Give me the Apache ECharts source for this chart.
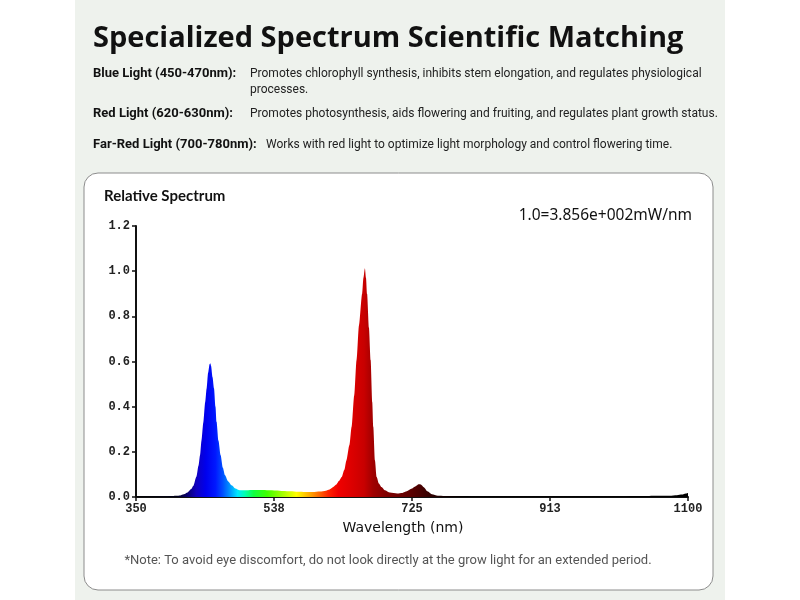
<!DOCTYPE html>
<html>
<head>
<meta charset="utf-8">
<script src="https://cdn.jsdelivr.net/npm/echarts@6/dist/echarts.min.js"></script>
<style>
  html, body { margin: 0; padding: 0; background: #ffffff; }
  #chart { width: 800px; height: 600px; }
</style>
</head>
<body>
<div id="chart"></div>
<script>
// spectrum samples (nm, relative intensity)
const wavelengths = [
  350, 370, 390, 400, 405, 410, 415, 420, 425, 428, 432, 435, 437, 439, 441.5, 444, 446, 448, 450, 451,
  452, 454, 456, 458, 459.5, 462, 465, 468, 471, 475, 480, 485, 491, 500, 510, 520, 530, 540, 550, 560,
  570, 580, 590, 600, 608, 613, 618, 622, 626, 629.5, 633, 636, 640, 643, 646.5, 649.7, 653, 657.3, 659, 661,
  662.5, 664, 666.5, 668.8, 671, 672.4, 674.6, 677, 680, 683.6, 688, 695, 705, 712, 718, 724, 730, 734, 737, 741,
  746, 752, 760, 780, 820, 880, 950, 1000, 1040, 1060, 1075, 1085, 1092, 1097, 1100
]
const intensity = [
  0.003, 0.003, 0.003, 0.004, 0.005, 0.007, 0.012, 0.02, 0.035, 0.05, 0.09, 0.14, 0.185, 0.25, 0.33, 0.42, 0.48, 0.55, 0.588, 0.592,
  0.58, 0.53, 0.48, 0.4, 0.333, 0.25, 0.185, 0.13, 0.096, 0.07, 0.052, 0.038, 0.03, 0.03, 0.031, 0.031, 0.03, 0.029, 0.027, 0.025,
  0.023, 0.022, 0.022, 0.024, 0.028, 0.033, 0.044, 0.055, 0.072, 0.089, 0.12, 0.163, 0.23, 0.311, 0.45, 0.607, 0.76, 0.9, 0.97, 1.013,
  0.97, 0.9, 0.75, 0.607, 0.42, 0.311, 0.163, 0.089, 0.06, 0.044, 0.03, 0.02, 0.016, 0.018, 0.025, 0.036, 0.048, 0.056, 0.055, 0.043,
  0.025, 0.012, 0.006, 0.004, 0.003, 0.003, 0.003, 0.003, 0.004, 0.005, 0.006, 0.008, 0.011, 0.016, 0.018
]
const xTickValues = [350, 537.5, 725, 912.5, 1100]
const xTickLabels = ['350', '538', '725', '913', '1100']
const yTickLabels = ['0.0', '0.2', '0.4', '0.6', '0.8', '1.0', '1.2']

const rows = [
  { label: 'Blue Light (450-470nm):', text: 'Promotes chlorophyll synthesis, inhibits stem elongation, and regulates physiological', more: 'processes.' },
  { label: 'Red Light (620-630nm):', text: 'Promotes photosynthesis, aids flowering and fruiting, and regulates plant growth status.' },
  { label: 'Far-Red Light (700-780nm):', text: 'Works with red light to optimize light morphology and control flowering time.' }
]

// fill colour follows wavelength
const wlMin = 350, wlMax = 1100
const spectrumStops = [
  [350, '#000000'], [405, '#000018'], [420, '#0a0070'], [432, '#1000c0'], [445, '#0000ee'],
  [458, '#0018ff'], [468, '#0050ff'], [478, '#0098ff'], [488, '#00e8ff'], [498, '#00ffb0'],
  [510, '#10ff40'], [528, '#40ff00'], [550, '#a8ff00'], [568, '#ffff00'], [588, '#ffa000'],
  [600, '#ff6000'], [612, '#ff2000'], [625, '#f00000'], [645, '#da0000'], [660, '#c80000'],
  [672, '#a00000'], [690, '#800000'], [720, '#600000'], [740, '#420000'], [770, '#100000'],
  [800, '#000000'], [1100, '#000000']
].map(([w, c]) => ({ offset: (w - wlMin) / (wlMax - wlMin), color: c }))

const chart = echarts.init(document.getElementById('chart'))

const graphics = [
  { type: 'rect', z: -10, shape: { x: 75, y: 0, width: 650, height: 600 }, style: { fill: '#eef2ed' } },
  { type: 'rect', z: -9, shape: { x: 84, y: 173, width: 629, height: 417, r: 14 }, style: { fill: '#ffffff', stroke: '#8c8c8c', lineWidth: 1 } },
  { type: 'text', x: 93, y: 39, style: { text: 'Specialized Spectrum Scientific Matching', font: 'bold 29px "Open Sans"', fill: '#111', verticalAlign: 'middle' } },
  { type: 'text', x: 104, y: 196, style: { text: 'Relative Spectrum', font: 'bold 15px Lato', fill: '#111', verticalAlign: 'middle' } },
  { type: 'text', x: 692, y: 216, style: { text: '1.0=3.856e+002mW/nm', font: '15.5px "Noto Sans"', fill: '#111', align: 'right', verticalAlign: 'middle' } },
  { type: 'text', x: 403, y: 528, style: { text: 'Wavelength (nm)', font: '14px "DejaVu Sans"', fill: '#111', align: 'center', verticalAlign: 'middle' } },
  { type: 'text', x: 388, y: 561, style: { text: '*Note: To avoid eye discomfort, do not look directly at the grow light for an extended period.', font: '13px Roboto', fill: '#555', align: 'center', verticalAlign: 'middle' } }
]
const rowY = [74, 114, 145]
const textX = [250, 250, 266]
rows.forEach((r, i) => {
  graphics.push({ type: 'text', x: 93, y: rowY[i], style: { text: r.label, font: 'bold 13px Roboto', fill: '#111', verticalAlign: 'middle' } })
  graphics.push({ type: 'text', x: textX[i], y: rowY[i], style: { text: r.text, font: '12px Roboto', fill: '#222', verticalAlign: 'middle' } })
  if (r.more) {
    graphics.push({ type: 'text', x: textX[i], y: rowY[i] + 16, style: { text: r.more, font: '12px Roboto', fill: '#222', verticalAlign: 'middle' } })
  }
})

const option = {
  backgroundColor: '#ffffff',
  animation: false,
  graphic: graphics,
  grid: { left: 136, right: 112, top: 226, bottom: 103 },
  xAxis: {
    type: 'value',
    min: wlMin,
    max: wlMax,
    splitLine: { show: false },
    axisLine: { lineStyle: { color: '#111', width: 2 } },
    axisTick: { customValues: xTickValues, length: 4, lineStyle: { color: '#111', width: 1.5 } },
    axisLabel: {
      customValues: xTickValues,
      formatter: (v) => xTickLabels[xTickValues.indexOf(v)],
      color: '#222',
      fontFamily: 'Liberation Mono',
      fontWeight: 'bold',
      fontSize: 12,
      margin: 6
    }
  },
  yAxis: {
    type: 'value',
    min: 0,
    max: 1.2,
    interval: 0.2,
    splitLine: { show: false },
    axisLine: { show: true, lineStyle: { color: '#111', width: 2 } },
    axisTick: { show: true, length: 4, lineStyle: { color: '#111', width: 1.5 } },
    axisLabel: {
      formatter: (v) => yTickLabels[Math.round(v / 0.2)],
      color: '#222',
      fontFamily: 'Liberation Mono',
      fontWeight: 'bold',
      fontSize: 12,
      margin: 6
    }
  },
  series: [
    {
      type: 'line',
      data: wavelengths.map((w, i) => [w, intensity[i]]),
      showSymbol: false,
      smooth: 0.25,
      smoothMonotone: 'x',
      lineStyle: { width: 0 },
      areaStyle: {
        opacity: 1,
        color: new echarts.graphic.LinearGradient(0, 0, 1, 0, spectrumStops)
      }
    }
  ]
}

chart.setOption(option)
</script>
</body>
</html>
